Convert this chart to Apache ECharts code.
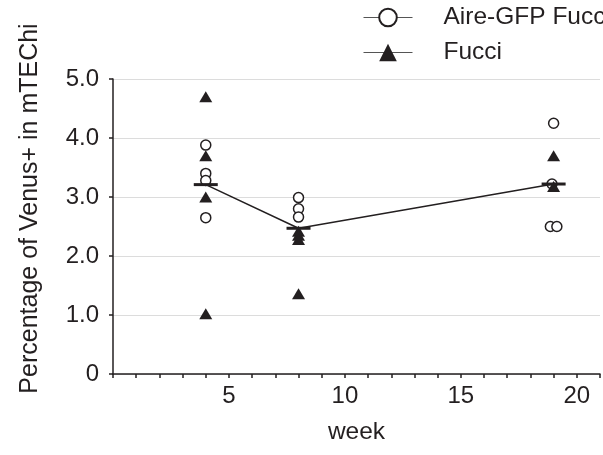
<!DOCTYPE html>
<html>
<head>
<meta charset="utf-8">
<script src="https://cdn.jsdelivr.net/npm/echarts@6/dist/echarts.min.js"></script>
<style>
  html, body { margin: 0; padding: 0; background: #fff; }
  #chart { width: 603px; height: 455px; }
</style>
</head>
<body>
<div id="chart"></div>
<script>
// data (x = week, y = % Venus+ in mTEChi)
const aireGfpFucci = [
  [4, 3.88], [4, 3.40], [4, 3.28], [4, 2.65],
  [8, 2.99], [8, 2.80], [8, 2.66],
  [19, 4.25], [18.93, 3.22], [18.86, 2.50], [19.14, 2.50]
]
const fucci = [
  [4, 4.70], [4, 3.70], [4, 3.00], [4, 1.02],
  [8, 2.42], [8, 2.35], [8, 2.28], [8, 1.36],
  [19, 3.70], [19, 3.18]
]
const means = [[4, 3.21], [8, 2.47], [19, 3.22]]
const seriesNames = ['Aire-GFP Fucci', 'Fucci']
const xLabelWeeks = [5, 10, 15, 20]

const ink = '#231f20'
const font = 'Liberation Sans, Arial, Helvetica, sans-serif'

const myChart = echarts.init(document.getElementById('chart'))
myChart.setOption({
  animation: false,
  textStyle: { fontFamily: font, color: ink },
  grid: {
    left: 113,
    right: 0,
    top: 79,
    bottom: 81,
    containLabel: false
  },
  legend: {
    data: seriesNames,
    orient: 'vertical',
    left: 363,
    top: 5,
    padding: 0,
    itemWidth: 49,
    itemHeight: 22,
    itemGap: 10,
    textStyle: {
      fontSize: 24.5,
      color: ink,
      padding: [0, 0, 0, 26]
    },
    lineStyle: {
      color: '#555',
      width: 1,
      opacity: 1
    }
  },
  xAxis: {
    type: 'value',
    min: 0,
    max: 21,
    interval: 1,
    name: 'week',
    nameLocation: 'middle',
    nameGap: 46,
    nameTextStyle: { fontSize: 24.5, color: ink },
    axisLine: { lineStyle: { color: ink, width: 1.5 } },
    axisTick: { show: true, length: 4, lineStyle: { color: ink, width: 1.5 } },
    axisLabel: {
      fontSize: 24,
      color: ink,
      margin: 10,
      formatter: function(value) {
        return xLabelWeeks.indexOf(value) >= 0 ? String(value) : ''
      }
    },
    splitLine: { show: false }
  },
  yAxis: {
    type: 'value',
    min: 0,
    max: 5,
    interval: 1,
    name: 'Percentage of Venus+ in mTEChi',
    nameLocation: 'middle',
    nameGap: 70,
    nameTextStyle: { fontSize: 25, color: ink, padding: [0, 0, 0, 36] },
    axisLine: { show: true, lineStyle: { color: ink, width: 1.5 } },
    axisTick: { show: true, length: 4, lineStyle: { color: ink, width: 1.5 } },
    axisLabel: {
      fontSize: 24,
      color: ink,
      margin: 14,
      formatter: function(value) {
        return value === 0 ? '0' : value.toFixed(1)
      }
    },
    splitLine: { lineStyle: { color: '#dcdcdc', width: 1 } }
  },
  series: [
    {
      name: seriesNames[0],
      type: 'line',
      data: aireGfpFucci,
      symbol: 'circle',
      symbolSize: 10,
      showSymbol: true,
      lineStyle: { opacity: 0, width: 0 },
      itemStyle: { color: '#fff', borderColor: ink, borderWidth: 1.5 },
      z: 3
    },
    {
      name: seriesNames[1],
      type: 'line',
      data: fucci,
      symbol: 'triangle',
      symbolSize: [13, 11],
      showSymbol: true,
      lineStyle: { opacity: 0, width: 0 },
      itemStyle: { color: ink },
      z: 4
    },
    {
      name: 'mean',
      type: 'line',
      data: means,
      symbol: 'rect',
      symbolSize: [24, 3],
      lineStyle: { color: ink, width: 1.5 },
      itemStyle: { color: ink },
      z: 5
    }
  ]
})
window.addEventListener('resize', function() {
  myChart.resize()
})
</script>
</body>
</html>
